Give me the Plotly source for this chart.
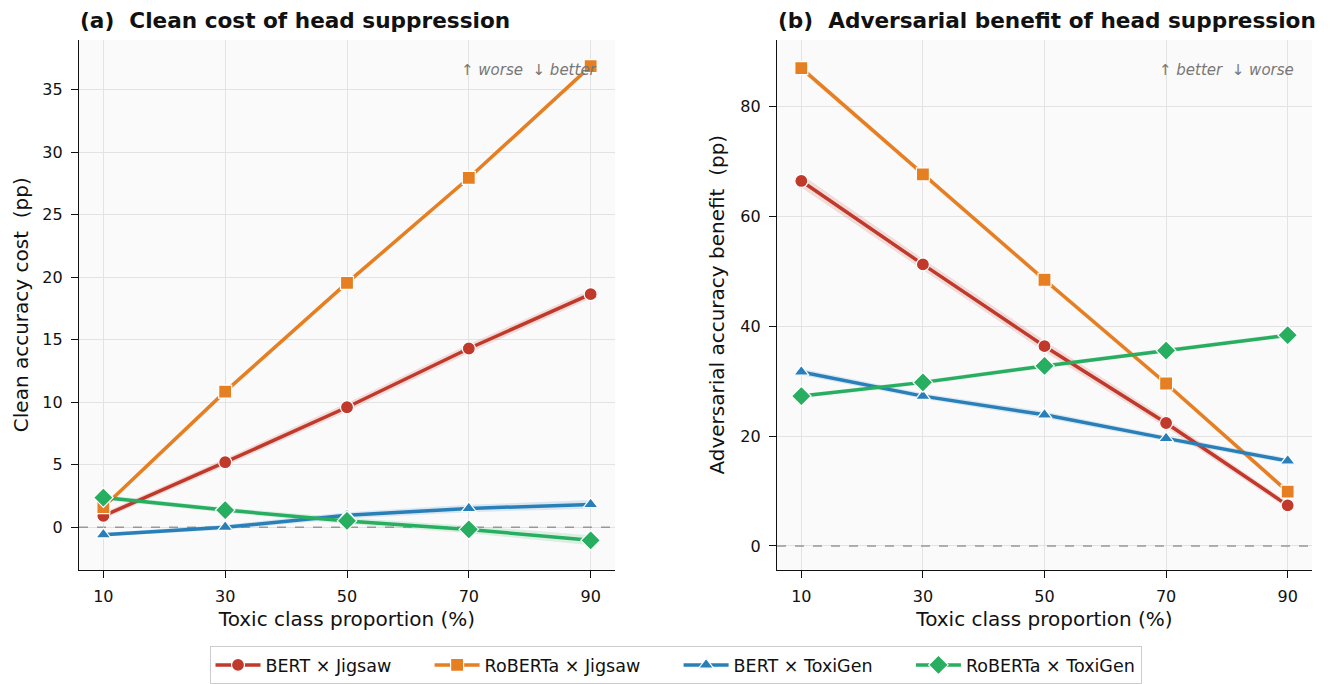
import plotly.graph_objects as go

proportions = [10, 30, 50, 70, 90]
series_names = ["BERT × Jigsaw", "RoBERTa × Jigsaw", "BERT × ToxiGen", "RoBERTa × ToxiGen"]

# (a) clean accuracy cost (pp)
clean_bert_jigsaw = [0.9, 5.2, 9.6, 14.3, 18.65]
clean_roberta_jigsaw = [1.6, 10.85, 19.55, 27.95, 36.9]
clean_bert_toxigen = [-0.6, 0.0, 0.95, 1.5, 1.82]
clean_roberta_toxigen = [2.37, 1.37, 0.5, -0.18, -1.05]
clean_std_bert_jigsaw = [0.25, 0.3, 0.35, 0.35, 0.35]
clean_std_roberta_jigsaw = [0.1, 0.1, 0.15, 0.15, 0.17]
clean_std_bert_toxigen = [0.15, 0.2, 0.25, 0.3, 0.35]
clean_std_roberta_toxigen = [0.2, 0.2, 0.25, 0.3, 0.4]

# (b) adversarial accuracy benefit (pp)
adv_bert_jigsaw = [66.5, 51.3, 36.4, 22.4, 7.4]
adv_roberta_jigsaw = [87.05, 67.7, 48.5, 29.6, 9.9]
adv_bert_toxigen = [31.7, 27.3, 23.9, 19.6, 15.5]
adv_roberta_toxigen = [27.3, 29.8, 32.8, 35.6, 38.4]
adv_std_bert_jigsaw = [1.2, 1.0, 1.0, 0.8, 0.6]
adv_std_roberta_jigsaw = [0.6, 0.5, 0.5, 0.5, 0.5]
adv_std_bert_toxigen = [0.6, 0.5, 0.6, 0.5, 0.5]
adv_std_roberta_toxigen = [0.4, 0.4, 0.4, 0.4, 0.4]

x_range = [6, 94]
clean_y_range = [-3.39, 39.0]
adv_y_range = [-4.3, 92.2]
clean_ticks = [0, 5, 10, 15, 20, 25, 30, 35]
adv_ticks = [0, 20, 40, 60, 80]
reference_level = [0, 0]

colors = ["#c0392b", "#e67e22", "#2980b9", "#27ae60"]
fills = ["rgba(192,57,43,0.15)", "rgba(230,126,34,0.15)", "rgba(41,128,185,0.15)", "rgba(39,174,96,0.15)"]
symbols = ["circle", "square", "triangle-up", "diamond"]
msizes = [13, 13, 13, 15]

clean = [clean_bert_jigsaw, clean_roberta_jigsaw, clean_bert_toxigen, clean_roberta_toxigen]
clean_std = [clean_std_bert_jigsaw, clean_std_roberta_jigsaw, clean_std_bert_toxigen, clean_std_roberta_toxigen]
adv = [adv_bert_jigsaw, adv_roberta_jigsaw, adv_bert_toxigen, adv_roberta_toxigen]
adv_std = [adv_std_bert_jigsaw, adv_std_roberta_jigsaw, adv_std_bert_toxigen, adv_std_roberta_toxigen]

NB = "\u00a0"
W, H = 1330, 684
fig = go.Figure()

def add_panel(values, stds, xa, ya, showlegend):
    # dashed zero reference line, drawn beneath the data
    fig.add_trace(go.Scatter(x=x_range, y=reference_level, mode="lines",
                             line=dict(color="#999999", width=1.4, dash="dash"),
                             hoverinfo="skip", showlegend=False, xaxis=xa, yaxis=ya))
    for i in range(4):
        up = [v + s for v, s in zip(values[i], stds[i])]
        lo = [v - s for v, s in zip(values[i], stds[i])]
        fig.add_trace(go.Scatter(x=proportions + proportions[::-1], y=up + lo[::-1],
                                 fill="toself", fillcolor=fills[i], line=dict(width=0),
                                 mode="lines", hoverinfo="skip", showlegend=False,
                                 xaxis=xa, yaxis=ya))
    for i in range(4):
        label = series_names[i] + (NB * 6 if i < 3 else "")
        fig.add_trace(go.Scatter(x=proportions, y=values[i], name=label,
                                 mode="lines+markers",
                                 line=dict(color=colors[i], width=3.5),
                                 marker=dict(symbol=symbols[i], size=msizes[i], color=colors[i],
                                             line=dict(color="white", width=1.2)),
                                 showlegend=showlegend, xaxis=xa, yaxis=ya))

add_panel(clean, clean_std, "x", "y", True)
add_panel(adv, adv_std, "x2", "y2", False)

xd1 = [79 / W, 615 / W]
xd2 = [777 / W, 1312 / W]
yd = [1 - 578 / H, 1 - 40.5 / H]

axis_common = dict(showgrid=True, gridcolor="#e3e3e3", gridwidth=1, zeroline=False,
                   showline=True, linecolor="#111", linewidth=1.4, ticks="outside",
                   ticklen=7, tickwidth=1.3, tickcolor="#111",
                   tickfont=dict(family="DejaVu Sans", size=16, color="#111"),
                   title_font=dict(family="DejaVu Sans", size=20, color="#111"))

fig.update_layout(
    width=W, height=H, margin=dict(l=0, r=0, t=0, b=0),
    paper_bgcolor="white", plot_bgcolor="#fafafa",
    font=dict(family="DejaVu Sans", color="#111"),
    xaxis=dict(domain=xd1, anchor="y", range=x_range, tickvals=proportions, ticklabelstandoff=5,
               title=dict(text="Toxic class proportion (%)", standoff=7), **axis_common),
    yaxis=dict(domain=yd, anchor="x", range=clean_y_range, tickvals=clean_ticks, ticklabelstandoff=5,
               title=dict(text="Clean accuracy cost  (pp)", standoff=8), **axis_common),
    xaxis2=dict(domain=xd2, anchor="y2", range=x_range, tickvals=proportions, ticklabelstandoff=5,
                title=dict(text="Toxic class proportion (%)", standoff=7), **axis_common),
    yaxis2=dict(domain=yd, anchor="x2", range=adv_y_range, tickvals=adv_ticks, ticklabelstandoff=5,
                title=dict(text="Adversarial accuracy benefit  (pp)", standoff=10), **axis_common),
    legend=dict(orientation="h", x=675.5 / W, xanchor="center", y=1 - 656 / H, yanchor="top",
                font=dict(family="DejaVu Sans", size=17.5, color="#111"),
                bordercolor="#cccccc", borderwidth=1, bgcolor="white",
                itemwidth=45, tracegroupgap=0),
    annotations=[
        dict(text="<b>(a)  Clean cost of head suppression</b>", xref="paper", yref="paper",
             x=78 / W, y=1 - 20.5 / H, xanchor="left", yanchor="middle", showarrow=False,
             font=dict(family="DejaVu Sans", size=21.6, color="#111")),
        dict(text="<b>(b)  Adversarial benefit of head suppression</b>", xref="paper", yref="paper",
             x=776 / W, y=1 - 20.5 / H, xanchor="left", yanchor="middle", showarrow=False,
             font=dict(family="DejaVu Sans", size=21.6, color="#111")),
        dict(text="↑ worse  ↓ better", xref="x domain", yref="y domain", x=0.97, y=0.944,
             xanchor="right", yanchor="middle", showarrow=False,
             font=dict(family="DejaVu Sans", size=15, color="#777777", style="italic")),
        dict(text="↑ better  ↓ worse", xref="x2 domain", yref="y2 domain", x=0.97, y=0.944,
             xanchor="right", yanchor="middle", showarrow=False,
             font=dict(family="DejaVu Sans", size=15, color="#777777", style="italic")),
    ],
)

fig.write_html("out.html")
